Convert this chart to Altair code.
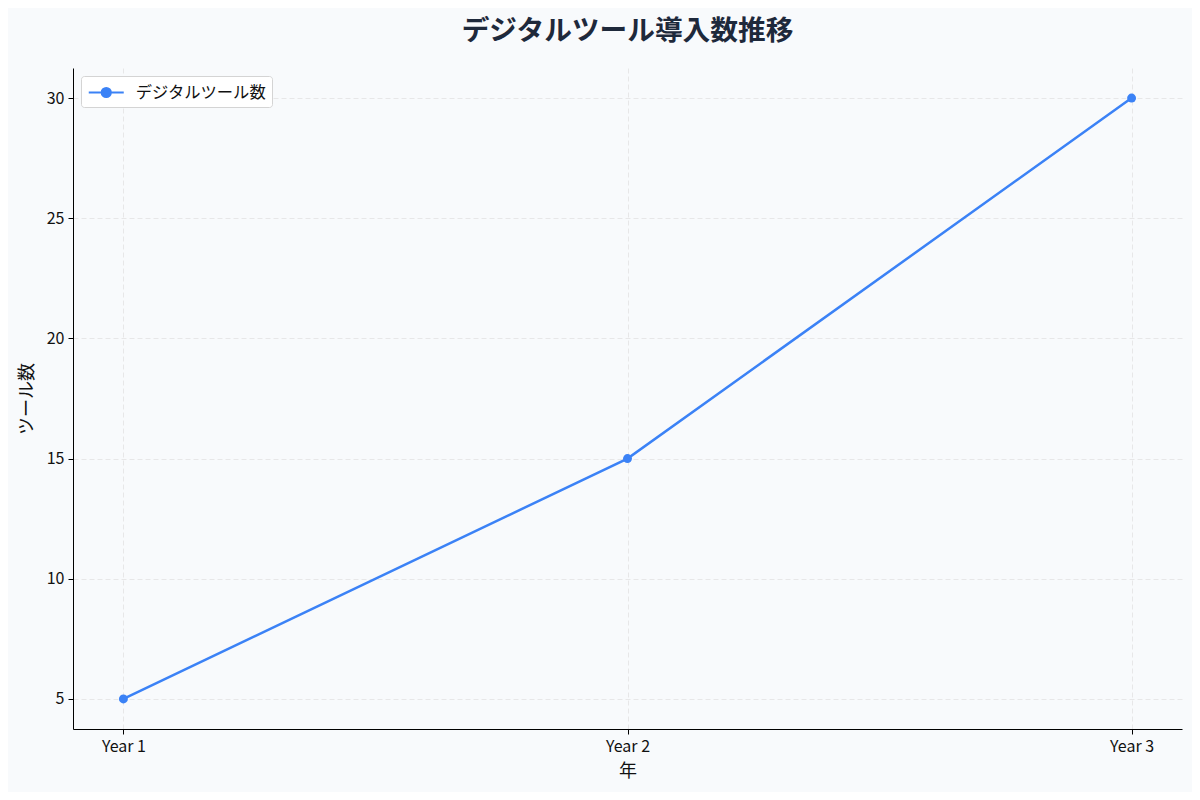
import altair as alt
import pandas as pd

FONT = "Noto Sans CJK JP"
BG = "#f8fafc"
LINE_BLUE = "#3b82f6"

# data
years = ["Year 1", "Year 2", "Year 3"]
tool_counts = [5, 15, 30]
series_name = "デジタルツール数"

df = pd.DataFrame(
    {
        "idx": list(range(len(years))),
        "year": years,
        "count": tool_counts,
        "series": [series_name] * len(years),
    }
)

# line + dot legend glyph (wider than the unit square, shifted with symbolOffset)
legend_symbol = (
    "M-1.75,0H1.75"
    "M0.45,0A0.45,0.45 0 1 1 -0.45,0A0.45,0.45 0 1 1 0.45,0Z"
)

color = alt.Color(
    "series:N",
    scale=alt.Scale(domain=[series_name], range=[LINE_BLUE]),
    legend=alt.Legend(
        title=None,
        orient="none",
        legendX=8,
        legendY=8,
        symbolType=legend_symbol,
        symbolSize=400,
        symbolOffset=8.75,
        symbolStrokeWidth=2.2,
        symbolFillColor=LINE_BLUE,
        symbolStrokeColor=LINE_BLUE,
        labelFont=FONT,
        labelFontSize=16.3,
        labelColor="#111111",
        labelOffset=18,
        fillColor="#ffffff",
        strokeColor="#d4d4d4",
        cornerRadius=3,
        padding=5,
    ),
)

x = alt.X(
    "idx:Q",
    title="年",
    scale=alt.Scale(domain=[-0.1, 2.1], nice=False, zero=False),
    axis=alt.Axis(
        values=[0, 1, 2],
        labelExpr="'Year ' + (datum.value + 1)",
        grid=True,
    ),
)
y = alt.Y(
    "count:Q",
    title="ツール数",
    scale=alt.Scale(domain=[3.75, 31.25], nice=False, zero=False),
    axis=alt.Axis(values=[5, 10, 15, 20, 25, 30], grid=True),
)

line = (
    alt.Chart(df)
    .mark_line(strokeWidth=2.5)
    .encode(x=x, y=y, color=color, order="idx:Q")
)
points = (
    alt.Chart(df)
    .mark_circle(size=80, opacity=1)
    .encode(
        x="idx:Q",
        y="count:Q",
        color=alt.Color("series:N", scale=alt.Scale(domain=[series_name], range=[LINE_BLUE]), legend=None),
    )
)

chart = (
    alt.layer(line, points)
    .properties(
        width=1109,
        height=661,
        background=BG,
        autosize=alt.AutoSizeParams(type="none"),
        padding={"left": 65, "top": 60, "right": 10, "bottom": 63},
        title=alt.TitleParams(
            text="デジタルツール導入数推移",
            font=FONT,
            fontSize=27.7,
            fontWeight="bold",
            color="#1e293b",
            anchor="middle",
            offset=22,
        ),
    )
    .configure_view(strokeWidth=0)
    .configure_axis(
        labelFont=FONT,
        labelFontSize=16,
        labelColor="#111111",
        titleFont=FONT,
        titleFontSize=18,
        titleFontWeight="normal",
        titleColor="#111111",
        domainColor="#000000",
        domainWidth=1,
        tickColor="#000000",
        tickSize=5,
        labelPadding=4,
        gridColor="#e2e2e2",
        gridDash=[5, 3],
        gridWidth=0.8,
    )
    .configure_axisX(titlePadding=8)
    .configure_axisY(titlePadding=10)
)

chart.save("out.html", embed_options={"renderer": "svg", "actions": False})
